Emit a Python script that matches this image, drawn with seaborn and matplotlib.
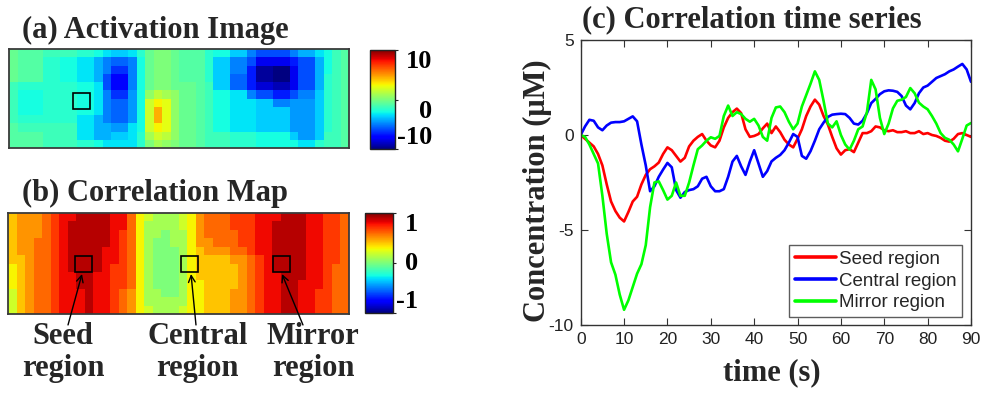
import numpy as np
import pandas as pd
import matplotlib
matplotlib.use("Agg")
import matplotlib.pyplot as plt
import seaborn as sns
from matplotlib.patches import Rectangle

# ---------------- data ----------------
# (a) activation image, 12 rows x 40 columns (top row first)
activation = [
    [-0.5,-1,-1,-1,-1.5,-1.5,-1.5,-1.5,-2,-2,-2.5,-3,-3.5,-3.5,-3,-2,-0.5,0,0,-0.5,-1,-1,-1,-2,-2.5,-2.5,-3.5,-3.5,-5,-6,-6,-6,-6,-5,-4,-4,-3,-2.5,-1.5,-1],
    [-0.5,-1,-1,-1,-2,-2,-2.5,-2.5,-3,-3,-4,-5,-5.5,-5.5,-5,-2.5,-0.5,0,0,-0.5,-1,-1,-1,-2,-3.5,-3.5,-5,-5,-6,-8,-8,-8,-8,-7,-6,-6,-4,-2.5,-1.5,-1],
    [-0.5,-1,-1,-1,-2,-2,-2.5,-2.5,-3,-3,-4,-5,-6.5,-6.5,-5,-2.5,-0.5,0,0,-0.5,-1,-1,-1,-2,-3.5,-3.5,-5,-5,-7,-9.5,-9.5,-10,-10,-8,-6,-6,-4,-2.5,-1.5,-1],
    [-0.5,-1,-1,-1,-2,-2,-2.5,-2.5,-3,-3,-4,-6,-7.5,-7.5,-5,-2.5,-0.5,0,0,-0.5,-1,-1,-1,-2,-3.5,-3.5,-5.5,-5.5,-7,-9.5,-9.5,-10,-10,-8,-6,-6,-4,-2,-1.5,-1],
    [-1.5,-2,-2,-2,-2,-2,-2,-2,-2.5,-2.5,-3,-6,-7.5,-7.5,-5,-2.5,-0.5,0,0,-0.5,-0.5,-0.5,-1,-1.5,-3.5,-3.5,-5.5,-5.5,-7,-8.5,-8.5,-9,-9,-8,-6,-6,-4,-2,-1.5,-1],
    [-1.5,-2.5,-2.5,-2.5,-2,-2,-2,-2,-2.5,-2.5,-3,-5,-6.5,-6.5,-4.5,-2.5,0.5,1.5,1,0.5,-0.5,-0.5,-1,-1.5,-2.5,-2.5,-3,-3,-5,-6,-6,-7,-7,-6,-5,-5,-3.5,-2,-1.5,-1],
    [-1.5,-2.5,-2.5,-2.5,-2,-2,-2,-2,-2.5,-2.5,-3,-5,-5.5,-5.5,-4.5,-2.5,2,3,2.5,0.5,-0.5,-0.5,-1,-1.5,-2.5,-2.5,-3,-3,-3,-3.5,-3.5,-5,-5,-4.5,-4.5,-4.5,-3.5,-2,-1.5,-1],
    [-1.5,-2.5,-2.5,-2.5,-2,-2,-2,-2,-2.5,-2.5,-3,-5,-5.5,-5.5,-4.5,-2.5,2,4.5,2.5,0.5,-0.5,-0.5,-1,-1.5,-2.5,-2.5,-3,-3,-3,-3.5,-3.5,-3.5,-3.5,-4.5,-4.5,-4.5,-3.5,-2,-1.5,-1],
    [-1.5,-2,-2,-2,-2,-2,-2,-2,-3,-3,-4,-5,-5.5,-5.5,-4.5,-2.5,2,4.5,2.5,0.5,-0.5,-0.5,-1,-1.5,-2.5,-2.5,-3,-3,-3,-3.5,-3.5,-3.5,-3.5,-4.5,-4.5,-4.5,-3.5,-2,-1.5,-1],
    [-1,-1.5,-1.5,-1.5,-1.5,-1.5,-1.5,-1.5,-3,-3,-4,-4,-4.5,-4.5,-3,-2.5,2,3,2.5,0.5,-0.5,-0.5,-1,-1.5,-2.5,-2.5,-3,-3,-3,-3.5,-3.5,-3.5,-3.5,-4.5,-4.5,-4.5,-3.5,-2,-1.5,-1],
    [-1,-1,-1,-1,-1.5,-1.5,-1.5,-1.5,-3,-3,-4,-4,-3.5,-3.5,-3,-2,1,2,1.5,0.5,-0.5,-0.5,-1,-1.5,-1.5,-1.5,-2,-2,-2,-2.5,-2.5,-2.5,-2.5,-3.5,-4.5,-4.5,-3.5,-1.5,-1.5,-1],
    [-1,-1,-1,-1,-1.5,-1.5,-1.5,-1.5,-2,-2,-2.5,-3,-3,-3,-3,-2,0,1,0.5,0,-0.5,-0.5,-1,-1.5,-1.5,-1.5,-2,-2,-2,-2.5,-2.5,-2.5,-2.5,-2.5,-3,-3,-2,-1.5,-1.5,-1],
]

# (b) correlation map in tenths, 12 rows x 40 columns (top row first)
correlation_tenths = [
    [4,5,5,5,6,7,8,8,9,9,9,9,8,8,6,3,2,1,1,1,2,3,5,6,6,6,7,7,7,8,8,8,9,9,9,8,8,7,7,6],
    [4,5,5,5,6,7,8,9,9,9,9,9,8,8,6,3,1,1,1,1,2,3,5,6,6,6,7,7,7,8,8,9,9,9,9,8,8,7,7,6],
    [4,5,5,5,6,7,8,9,9,9,9,9,8,7,6,3,1,1,0,1,1,3,5,6,6,6,6,7,7,8,8,9,9,9,9,8,8,7,7,6],
    [4,5,5,6,6,7,8,9,9,9,9,9,8,7,6,3,1,0,0,1,1,3,5,5,6,6,6,7,7,8,8,9,9,9,9,8,8,7,7,6],
    [4,5,5,6,6,7,8,9,9,9,9,8,8,7,6,3,1,0,0,0,1,3,4,5,5,5,6,6,7,8,8,9,9,9,9,8,8,7,7,6],
    [4,4,5,6,6,7,8,9,9,9,9,8,8,7,6,3,1,0,0,0,1,3,4,4,4,4,5,5,6,7,8,9,9,9,9,8,8,7,7,6],
    [3,4,5,6,6,7,8,9,9,9,9,8,7,7,6,3,1,0,0,0,1,3,4,4,4,4,4,5,6,7,8,9,9,9,9,8,8,7,6,6],
    [3,4,5,6,6,7,8,8,9,9,8,8,7,7,6,3,1,0,0,0,1,3,4,4,4,4,4,5,6,7,8,8,9,9,9,8,8,7,6,6],
    [3,4,5,6,6,7,8,8,9,9,8,8,7,7,6,3,1,0,0,0,1,3,3,4,4,4,4,5,6,7,8,8,9,9,8,8,8,7,6,6],
    [2,4,5,6,6,7,8,8,8,9,8,8,7,6,5,3,1,1,0,0,1,3,3,4,4,4,5,5,6,7,8,8,9,9,8,8,7,7,6,6],
    [2,4,5,6,6,7,8,8,8,9,8,8,7,6,5,3,1,1,1,1,1,3,3,4,4,4,5,5,6,7,8,8,9,9,8,8,7,7,6,6],
    [2,4,5,6,6,7,8,8,8,9,8,8,7,6,5,3,2,1,1,1,2,3,3,4,4,4,5,5,6,7,8,8,9,9,8,8,7,7,6,6],
]

# (c) concentration time series, one sample per second (µM)
time_s = list(range(0, 91))
seed_region = [
    0, -0.2, -0.4, -0.6, -1.0, -1.6, -2.6, -3.5, -4.0, -4.35,
    -4.55, -4.05, -3.5, -3.25, -2.6, -2.1, -1.8, -1.65, -1.45, -1.0,
    -0.65, -0.8, -1.1, -1.4, -1.2, -0.6, -0.3, -0.1, 0.05, -0.3,
    -0.55, -0.65, -0.3, 0.4, 0.9, 1.2, 1.39, 1.15, 0.3, -0.1,
    -0.05, 0.05, 0.35, 0.6, 0.1, 0.45, 0.15, -0.25, -0.5, -0.65,
    -0.2, 0.3, 1.0, 1.5, 1.86, 1.6, 1.0, 0.55, -0.1, -0.7,
    -1.03, -0.8, -0.75, -0.9, -0.4, 0.1, 0.1, 0.2, 0.45, 0.4,
    0.25, 0.2, 0.25, 0.15, 0.15, 0.2, 0.1, 0.1, 0.2, 0.05,
    0.1, 0.0, -0.05, -0.15, -0.3, -0.35, -0.2, 0.05, 0.1, 0.0,
    -0.1,
]
central_region = [
    0, 0.45, 0.8, 0.75, 0.4, 0.25, 0.5, 0.65, 0.68, 0.68,
    0.72, 0.85, 0.98, 0.72, -0.5, -1.6, -2.96, -2.7, -2.2, -1.82,
    -1.47, -1.7, -2.9, -3.3, -3.0, -2.9, -2.85, -2.7, -2.3, -2.2,
    -2.7, -2.96, -2.96, -2.85, -2.2, -1.4, -1.1, -1.65, -2.1, -1.4,
    -0.8, -1.5, -2.2, -1.9, -1.39, -1.2, -1.05, -0.8, -0.4, 0.05,
    -0.1, -1.1, -1.25, -0.85, -0.3, 0.3, 0.65, 0.95, 1.07, 1.1,
    1.12, 1.1, 0.9, 0.6, 0.55, 0.75, 1.15, 1.68, 1.9, 2.15,
    2.3, 2.35, 2.33, 2.27, 2.05, 1.55, 1.35, 1.68, 2.2, 2.5,
    2.6, 2.8, 3.0, 3.1, 3.2, 3.35, 3.45, 3.6, 3.74, 3.45,
    2.8,
]
mirror_region = [
    0, -0.1, -0.5, -1.0, -1.5, -3.2, -5.2, -6.7, -7.35, -8.4,
    -9.2, -8.7, -8.0, -7.3, -6.8, -5.8, -3.8, -2.5, -2.44, -2.9,
    -3.4, -3.2, -2.5, -3.2, -3.2, -2.5, -1.6, -0.75, -0.55, -0.3,
    -0.12, -0.2, -0.05, 1.0, 1.55, 1.0, 1.2, 1.1, 0.85, 0.7,
    0.85, 0.5, -0.1, -0.3, 0.9, 1.45, 1.5, 1.2, 0.7, 0.3,
    0.6, 1.5, 2.1, 2.7, 3.35, 2.9, 1.8, 0.6, 0.4, 0.72,
    0.0, -0.5, -0.77, -0.3, 0.3, 0.45, 1.2, 2.9, 2.4, 0.9,
    0.05, 0.6, 1.4, 1.8, 1.86, 2.0, 2.47, 2.2, 1.7, 1.5,
    1.35, 1.0, 0.6, 0.1, -0.15, -0.25, -0.5, -0.86, -0.2, 0.5,
    0.63,
]
series_names = ["Seed region", "Central region", "Mirror region"]
series_colors = ["#ff0000", "#0000ff", "#00ff00"]

x_ticks = [0, 10, 20, 30, 40, 50, 60, 70, 80, 90]
y_ticks = [-10, -5, 0, 5]

# ---------------- figure ----------------
sns.set_style("ticks")
plt.rcParams["font.family"] = ["Liberation Sans", "DejaVu Sans"]
SERIF = ["Liberation Serif", "DejaVu Serif"]

W, H = 982, 396
fig = plt.figure(figsize=(W / 100, H / 100), dpi=100)


def px_axes(x0, y0, x1, y1):
    """Axes from pixel box (left, top, right, bottom)."""
    return fig.add_axes([x0 / W, 1 - y1 / H, (x1 - x0) / W, (y1 - y0) / H])


def style_heatmap(ax, cax, ticks, labels, valign, pad):
    for sp in ax.spines.values():
        sp.set_visible(True)
        sp.set_color("#3a3a3a")
        sp.set_linewidth(1.3)
    ax.set_xticks([])
    ax.set_yticks([])
    cbar = ax.collections[0].colorbar
    cbar.outline.set_edgecolor("#222222")
    cbar.outline.set_linewidth(1.0)
    cbar.set_ticks(ticks)
    cbar.set_ticklabels(labels)
    cax.tick_params(length=2, width=0.8, pad=pad, colors="#222222")
    for lbl, va in zip(cax.get_yticklabels(), valign):
        lbl.set_fontfamily(SERIF)
        lbl.set_fontweight("bold")
        lbl.set_fontsize(19)
        lbl.set_color("black")
        lbl.set_ha("right")
        lbl.set_va(va)


# (a) activation image
act_df = pd.DataFrame(activation)
ax_a = px_axes(9, 49, 349, 148)
cax_a = px_axes(370, 50, 395, 149)
sns.heatmap(act_df, ax=ax_a, cbar_ax=cax_a, cmap="jet", vmin=-10, vmax=10,
            xticklabels=False, yticklabels=False)
style_heatmap(ax_a, cax_a, [-10, 0, 10], ["-10", "0", "10"],
              ["bottom", "top", "top"], 25)
ax_a.add_patch(Rectangle((7.55, 5.3), 2.0, 1.95, fill=False, ec="black", lw=1.2))

# (b) correlation map
corr_df = pd.DataFrame(correlation_tenths) / 10.0
ax_b = px_axes(8, 213, 349, 314)
cax_b = px_axes(365, 213, 393, 313)
sns.heatmap(corr_df, ax=ax_b, cbar_ax=cax_b, cmap="jet", vmin=-1, vmax=1,
            xticklabels=False, yticklabels=False)
style_heatmap(ax_b, cax_b, [-1, 0, 1], ["-1", "0", "1"],
              ["bottom", "center", "top"], 16)

boxes_b = [(7.85, 5.07), (20.3, 5.07), (31.1, 5.07)]
for bx, by in boxes_b:
    ax_b.add_patch(Rectangle((bx, by), 1.95, 1.95, fill=False, ec="black", lw=1.2))

arrows_b = [((8.68, 7.25), (7.04, 13.3)),
            ((21.47, 7.25), (22.05, 13.3)),
            ((32.14, 7.25), (34.6, 13.3))]
for tip, tail in arrows_b:
    ax_b.annotate("", xy=tip, xytext=tail, xycoords="data", textcoords="data",
                  annotation_clip=False,
                  arrowprops=dict(arrowstyle="->", color="black", lw=1.0,
                                  shrinkA=0, shrinkB=0, mutation_scale=12))

labels_b = [(6.45, "Seed\nregion"), (22.2, "Central\nregion"), (35.8, "Mirror\nregion")]
for lx, txt in labels_b:
    ax_b.text(lx, 16.6, txt, ha="center", va="center", fontfamily=SERIF,
              fontweight="bold", fontsize=22, linespacing=1.12, clip_on=False)

fig.text(22 / W, 1 - 30 / H, "(a) Activation Image", ha="left", va="center",
         fontfamily=SERIF, fontweight="bold", fontsize=22)
fig.text(22 / W, 1 - 193 / H, "(b) Correlation Map", ha="left", va="center",
         fontfamily=SERIF, fontweight="bold", fontsize=22)

# (c) correlation time series
ts = pd.DataFrame({
    "time": time_s * 3,
    "value": seed_region + central_region + mirror_region,
    "region": sum([[n] * len(time_s) for n in series_names], []),
})
ax_c = px_axes(580.7, 40, 971, 325)
sns.lineplot(data=ts, x="time", y="value", hue="region", hue_order=series_names,
             palette=series_colors, linewidth=1.9, ax=ax_c, legend=False)
ax_c.set_xlim(0, 90)
ax_c.set_ylim(-10, 5)
ax_c.set_xticks(x_ticks)
ax_c.set_yticks(y_ticks)
ax_c.set_yticklabels([str(v) for v in y_ticks])
ax_c.set_xlabel("")
ax_c.set_ylabel("")
ax_c.tick_params(direction="in", length=5, width=0.8, top=True, right=True,
                 labelsize=12.5, colors="#333333", labelcolor="#222222", pad=5)
for sp in ax_c.spines.values():
    sp.set_visible(True)
    sp.set_color("#333333")
    sp.set_linewidth(1.0)

handles = [plt.Line2D([], [], color=c, lw=2.6) for c in series_colors]
leg = ax_c.legend(handles, series_names, loc="lower right",
                  bbox_to_anchor=(0.977, 0.028), borderaxespad=0,
                  frameon=True, fancybox=False, edgecolor="#333333",
                  fontsize=13.5, handlelength=2.2, handletextpad=0.15,
                  labelspacing=0.25, borderpad=0.3)
leg.get_frame().set_linewidth(1.0)

fig.text(752 / W, 1 - 20 / H, "(c) Correlation time series", ha="center",
         va="center", fontfamily=SERIF, fontweight="bold", fontsize=22)
fig.text(537 / W, 1 - 191 / H, "Concentration (\u03bcM)", ha="center",
         va="center", rotation=90, fontfamily=SERIF, fontweight="bold", fontsize=22)
fig.text(772 / W, 1 - 373 / H, "time (s)", ha="center", va="center",
         fontfamily=SERIF, fontweight="bold", fontsize=22)

fig.savefig("out.png", dpi=100)
